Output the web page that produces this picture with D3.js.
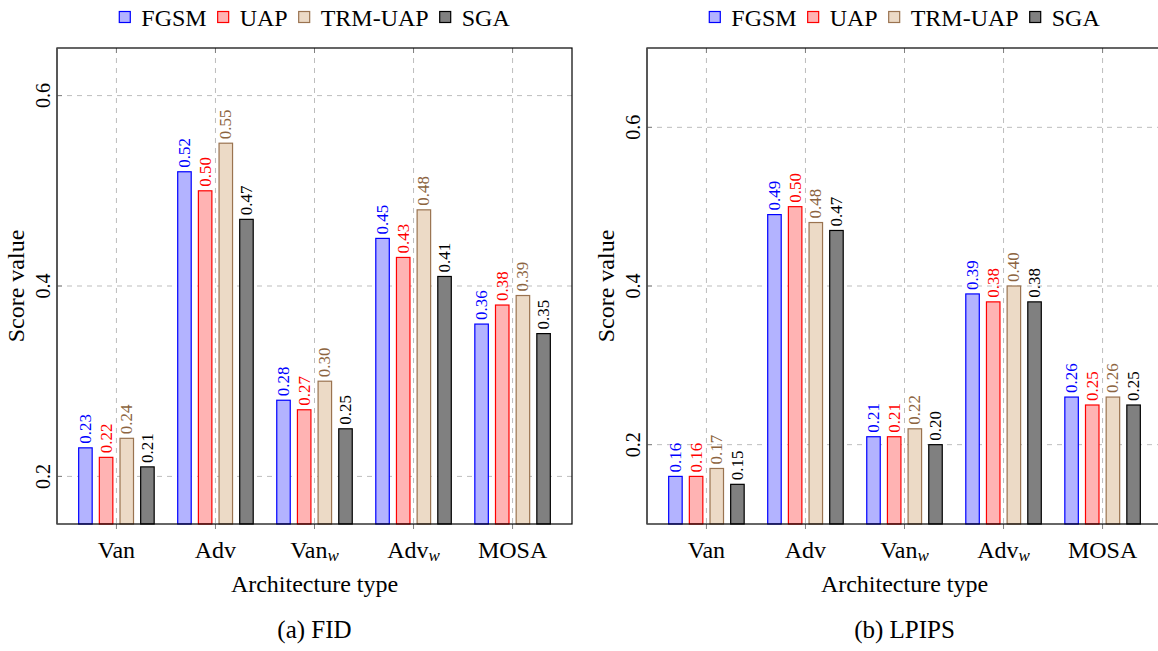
<!DOCTYPE html>
<html>
<head>
<meta charset="utf-8">
<script src="https://cdn.jsdelivr.net/npm/d3@7"></script>
<style>
  body { margin: 0; background: #fff; }
  text { font-family: "Liberation Serif", "DejaVu Serif", serif; }
</style>
</head>
<body>
<script>
var categories = ['Van', 'Adv', 'Van_w', 'Adv_w', 'MOSA'];
var seriesNames = ['FGSM', 'UAP', 'TRM-UAP', 'SGA'];

// FID scores
var fidFGSM = [0.23, 0.52, 0.28, 0.45, 0.36];
var fidUAP  = [0.22, 0.50, 0.27, 0.43, 0.38];
var fidTRM  = [0.24, 0.55, 0.30, 0.48, 0.39];
var fidSGA  = [0.21, 0.47, 0.25, 0.41, 0.35];

// LPIPS scores
var lpFGSM = [0.16, 0.49, 0.21, 0.39, 0.26];
var lpUAP  = [0.16, 0.50, 0.21, 0.38, 0.25];
var lpTRM  = [0.17, 0.48, 0.22, 0.40, 0.26];
var lpSGA  = [0.15, 0.47, 0.20, 0.38, 0.25];

var yTicks = [0.2, 0.4, 0.6];

var fills   = ['#b3b3ff', '#ffb3b3', '#ecdac6', '#808080'];
var strokes = ['#0000ff', '#ff0000', '#9a7350', '#000000'];
var textCol = ['#0000ff', '#ff0000', '#8c6440', '#000000'];

var W = 1158, H = 651;
var yTop = 48, yBot = 524;

var svg = d3.select('body').append('svg').attr('width', W).attr('height', H);

function catLabel(sel, name) {
  var parts = name.split('_');
  sel.text(parts[0]);
  if (parts.length > 1) {
    sel.append('tspan').attr('font-style', 'italic').attr('font-size', '17px')
      .attr('dy', 3).text(parts[1]);
  }
}

function drawPanel(x0, x1, yDomain, data, caption) {
  var g = svg.append('g');
  var x = d3.scaleLinear().domain([-0.6, 4.6]).range([x0, x1]);
  var y = d3.scaleLinear().domain(yDomain).range([yBot, yTop]);
  var sub = d3.scalePoint().domain(seriesNames).range([-31, 31]);
  var bw = 13.5;

  // grid
  g.selectAll('line.vg').data(categories).enter().append('line')
    .attr('x1', function(d, i) { return x(i); }).attr('x2', function(d, i) { return x(i); })
    .attr('y1', yTop).attr('y2', yBot)
    .attr('stroke', '#bdbdbd').attr('stroke-width', 1).attr('stroke-dasharray', '5,5');
  g.selectAll('line.hg').data(yTicks).enter().append('line')
    .attr('x1', x0).attr('x2', x1)
    .attr('y1', function(d) { return y(d); }).attr('y2', function(d) { return y(d); })
    .attr('stroke', '#bdbdbd').attr('stroke-width', 1).attr('stroke-dasharray', '5,5');

  // bars
  seriesNames.forEach(function(s, si) {
    var vals = data[si];
    g.selectAll('rect.s' + si).data(vals).enter().append('rect')
      .attr('x', function(d, i) { return x(i) + sub(s) - bw / 2; })
      .attr('y', function(d) { return y(d); })
      .attr('width', bw)
      .attr('height', function(d) { return yBot - y(d); })
      .attr('fill', fills[si]).attr('stroke', strokes[si]).attr('stroke-width', 1.2);

    g.selectAll('text.s' + si).data(vals).enter().append('text')
      .attr('transform', function(d, i) {
        return 'translate(' + (x(i) + sub(s)) + ',' + (y(d) - 4) + ') rotate(-90)';
      })
      .attr('dominant-baseline', 'central')
      .attr('font-size', '17px')
      .attr('fill', textCol[si])
      .text(function(d) { return d3.format('.2f')(d); });
  });

  // ticks
  g.selectAll('line.xt').data(categories).enter().append('line')
    .attr('x1', function(d, i) { return x(i); }).attr('x2', function(d, i) { return x(i); })
    .attr('y1', yBot).attr('y2', yBot + 5).attr('stroke', '#808080');
  g.selectAll('line.xt2').data(categories).enter().append('line')
    .attr('x1', function(d, i) { return x(i); }).attr('x2', function(d, i) { return x(i); })
    .attr('y1', yTop).attr('y2', yTop + 5).attr('stroke', '#808080');
  g.selectAll('line.yt').data(yTicks).enter().append('line')
    .attr('x1', x0).attr('x2', x0 + 5)
    .attr('y1', function(d) { return y(d); }).attr('y2', function(d) { return y(d); })
    .attr('stroke', '#808080');

  // frame
  g.append('rect').attr('x', x0).attr('y', yTop).attr('width', x1 - x0).attr('height', yBot - yTop)
    .attr('fill', 'none').attr('stroke', '#000').attr('stroke-width', 1.2);
  g.append('line').attr('x1', x0).attr('x2', x0).attr('y1', yTop).attr('y2', yBot)
    .attr('stroke', '#555').attr('stroke-width', 1.6);

  // y tick labels
  g.selectAll('text.yl').data(yTicks).enter().append('text')
    .attr('transform', function(d) { return 'translate(' + (x0 - 14) + ',' + y(d) + ') rotate(-90)'; })
    .attr('text-anchor', 'middle').attr('dominant-baseline', 'central')
    .attr('font-size', '20px').text(function(d) { return d3.format('.1f')(d); });

  // category labels
  g.selectAll('text.cl').data(categories).enter().append('text')
    .attr('x', function(d, i) { return x(i); }).attr('y', 558)
    .attr('text-anchor', 'middle').attr('font-size', '24px')
    .each(function(d) { catLabel(d3.select(this), d); });

  var cx = (x0 + x1) / 2;
  g.append('text').attr('x', cx).attr('y', 592).attr('text-anchor', 'middle')
    .attr('font-size', '24px').text('Architecture type');
  g.append('text').attr('transform', 'translate(' + (x0 - 33) + ',' + ((yTop + yBot) / 2) + ') rotate(-90)')
    .attr('text-anchor', 'middle').attr('font-size', '24px').text('Score value');
  g.append('text').attr('x', cx).attr('y', 638).attr('text-anchor', 'middle')
    .attr('font-size', '25px').text(caption);

  // legend
  var leg = g.append('g');
  var lx = 0;
  seriesNames.forEach(function(s, si) {
    leg.append('rect').attr('x', lx).attr('y', -5.5).attr('width', 11).attr('height', 11)
      .attr('fill', fills[si]).attr('stroke', strokes[si]).attr('stroke-width', 1.2);
    var t = leg.append('text').attr('x', lx + 22).attr('y', 1).attr('dominant-baseline', 'central')
      .attr('font-size', '24px').text(s);
    lx += 22 + t.node().getComputedTextLength() + 11;
  });
  lx -= 11;
  leg.attr('transform', 'translate(' + (cx - lx / 2) + ',17)');
}

drawPanel(57, 572, [0.15, 0.65], [fidFGSM, fidUAP, fidTRM, fidSGA], '(a) FID');
drawPanel(647, 1162, [0.1, 0.7], [lpFGSM, lpUAP, lpTRM, lpSGA], '(b) LPIPS');
</script>
</body>
</html>
